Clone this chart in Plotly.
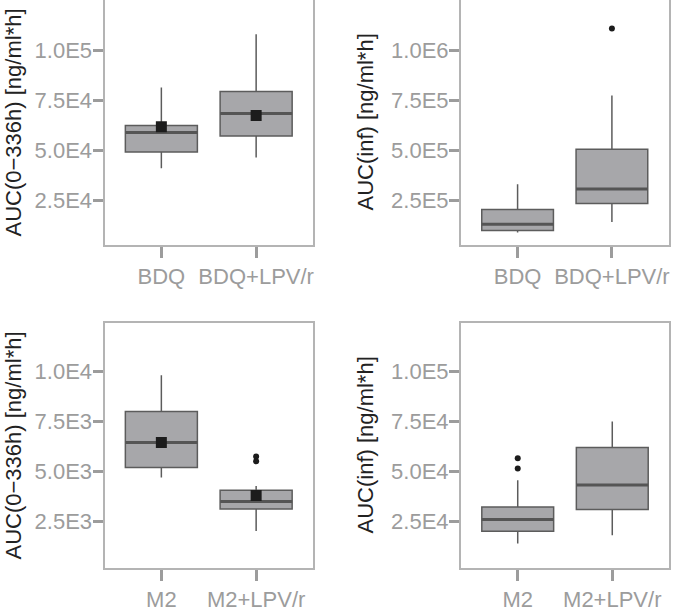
import plotly.graph_objects as go

# ---------------- data ----------------
cats_bdq = ["BDQ", "BDQ+LPV/r"]
cats_m2 = ["M2", "M2+LPV/r"]

# Panel A: BDQ AUC(0-336h)
a_low = [40850, 46200]
a_q1 = [49000, 57000]
a_med = [58700, 68200]
a_q3 = [62200, 79200]
a_high = [81200, 107850]
a_mean = [61600, 67250]
a_out_cat = []
a_out_val = []

# Panel B: BDQ AUC(inf)
b_low = [87000, 140000]
b_q1 = [97000, 232000]
b_med = [128500, 305000]
b_q3 = [202000, 503500]
b_high = [328500, 772000]
b_mean = None
b_out_cat = [1]
b_out_val = [1107000]

# Panel C: M2 AUC(0-336h)
c_low = [4670, 2000]
c_q1 = [5170, 3100]
c_med = [6420, 3470]
c_q3 = [7970, 4035]
c_high = [9785, 4250]
c_mean = [6420, 3770]
c_out_cat = [1, 1]
c_out_val = [5720, 5485]

# Panel D: M2 AUC(inf)
d_low = [13700, 17850]
d_q1 = [19850, 30700]
d_med = [25700, 43000]
d_q3 = [32000, 61700]
d_high = [45350, 74700]
d_mean = None
d_out_cat = [0, 0]
d_out_val = [56350, 51200]

ticks_e5 = [2.5e4, 5e4, 7.5e4, 1e5]
ticktext_e5 = ["2.5E4", "5.0E4", "7.5E4", "1.0E5"]
ticks_e6 = [2.5e5, 5e5, 7.5e5, 1e6]
ticktext_e6 = ["2.5E5", "5.0E5", "7.5E5", "1.0E6"]
ticks_e4 = [2.5e3, 5e3, 7.5e3, 1e4]
ticktext_e4 = ["2.5E3", "5.0E3", "7.5E3", "1.0E4"]

title_auc336 = "AUC(0\u2212336h) [ng/ml*h]"
title_aucinf = "AUC(inf) [ng/ml*h]"

# ---------------- styling ----------------
W, H = 680, 611
BOX_FILL = "#a7a7aa"
BOX_LINE = "#5c5c5c"
MED_LINE = "#555555"
POINT = "#1c1c1c"
FRAME = "#b4b4b4"
TICK_COL = "#9c9c9c"
TITLE_COL = "#222222"
FONT = "Liberation Sans, Arial, Helvetica, sans-serif"
BOXW = 0.76

panels = [
    dict(cats=cats_bdq, low=a_low, q1=a_q1, med=a_med, q3=a_q3, high=a_high, mean=a_mean,
         oc=a_out_cat, ov=a_out_val, tv=ticks_e5, tt=ticktext_e5, scale=1e5,
         title=title_auc336, xdom=[104.5 / W, 313 / W], ydom=[1 - 245 / H, 1.0], yr=[0.025, 1.25],
         tx=13 / W),
    dict(cats=cats_bdq, low=b_low, q1=b_q1, med=b_med, q3=b_q3, high=b_high, mean=b_mean,
         oc=b_out_cat, ov=b_out_val, tv=ticks_e6, tt=ticktext_e6, scale=1e6,
         title=title_aucinf, xdom=[461 / W, 668.5 / W], ydom=[1 - 245 / H, 1.0], yr=[0.025, 1.25],
         tx=365 / W),
    dict(cats=cats_m2, low=c_low, q1=c_q1, med=c_med, q3=c_q3, high=c_high, mean=c_mean,
         oc=c_out_cat, ov=c_out_val, tv=ticks_e4, tt=ticktext_e4, scale=1e4,
         title=title_auc336, xdom=[104.5 / W, 313 / W], ydom=[1 - 568 / H, 1 - 323 / H], yr=[0.015, 1.24],
         tx=13 / W),
    dict(cats=cats_m2, low=d_low, q1=d_q1, med=d_med, q3=d_q3, high=d_high, mean=d_mean,
         oc=d_out_cat, ov=d_out_val, tv=ticks_e5, tt=ticktext_e5, scale=1e5,
         title=title_aucinf, xdom=[461 / W, 669 / W], ydom=[1 - 568 / H, 1 - 323 / H], yr=[0.015, 1.24],
         tx=365 / W),
]

fig = go.Figure()
layout = dict(
    template="none",
    width=W, height=H, margin=dict(l=0, r=0, t=0, b=0, pad=0, autoexpand=False),
    paper_bgcolor="white", plot_bgcolor="white", showlegend=False,
    font=dict(family=FONT, size=22, color=TICK_COL),
)
annotations = []

for i, p in enumerate(panels):
    n = "" if i == 0 else str(i + 1)
    xa, ya = "x" + n, "y" + n
    pos = list(range(len(p["cats"])))
    fig.add_trace(go.Box(
        x=pos, q1=p["q1"], median=p["med"], q3=p["q3"],
        lowerfence=p["low"], upperfence=p["high"],
        width=BOXW, whiskerwidth=0, fillcolor=BOX_FILL,
        line=dict(color=BOX_LINE, width=1.5), boxpoints=False,
        hoverinfo="skip", xaxis=xa, yaxis=ya,
    ))
    # thicker median lines
    for k in pos:
        fig.add_trace(go.Scatter(
            x=[k - BOXW / 2, k + BOXW / 2], y=[p["med"][k], p["med"][k]],
            mode="lines", line=dict(color=MED_LINE, width=3),
            hoverinfo="skip", xaxis=xa, yaxis=ya,
        ))
    if p["oc"]:
        fig.add_trace(go.Scatter(
            x=p["oc"], y=p["ov"], mode="markers",
            marker=dict(color=POINT, size=6, symbol="circle"),
            hoverinfo="skip", xaxis=xa, yaxis=ya,
        ))
    if p["mean"] is not None:
        fig.add_trace(go.Scatter(
            x=pos, y=p["mean"], mode="markers",
            marker=dict(color=POINT, size=11, symbol="square"),
            hoverinfo="skip", xaxis=xa, yaxis=ya,
        ))
    layout["xaxis" + n] = dict(
        domain=p["xdom"], anchor=ya, range=[-0.6, 1.6], automargin=False,
        tickmode="array", tickvals=pos, ticktext=p["cats"],
        showline=True, mirror=True, linecolor=FRAME, linewidth=2,
        ticks="outside", ticklen=11, tickwidth=2.5, tickcolor=TICK_COL,
        showgrid=False, zeroline=False, fixedrange=True,
        tickfont=dict(family=FONT, size=22, color=TICK_COL),
    )
    layout["yaxis" + n] = dict(
        domain=p["ydom"], anchor=xa, automargin=False,
        range=[p["yr"][0] * p["scale"], p["yr"][1] * p["scale"]],
        tickmode="array", tickvals=p["tv"], ticktext=p["tt"],
        showline=True, mirror=True, linecolor=FRAME, linewidth=2,
        ticks="outside", ticklen=10, tickwidth=2.5, tickcolor=TICK_COL,
        ticklabelstandoff=-4,
        showgrid=False, zeroline=False, fixedrange=True,
        tickfont=dict(family=FONT, size=22, color=TICK_COL),
    )
    annotations.append(dict(
        text=p["title"], textangle=-90, xref="paper", yref="paper",
        x=p["tx"], y=(p["ydom"][0] + p["ydom"][1]) / 2,
        xanchor="center", yanchor="middle", showarrow=False,
        font=dict(family=FONT, size=22, color=TITLE_COL),
    ))

layout["annotations"] = annotations
fig.update_layout(**layout)
fig.write_html(
    "out.html",
    config={"displayModeBar": False},
    post_script="document.body.style.margin='0';document.body.style.overflow='hidden';",
)
